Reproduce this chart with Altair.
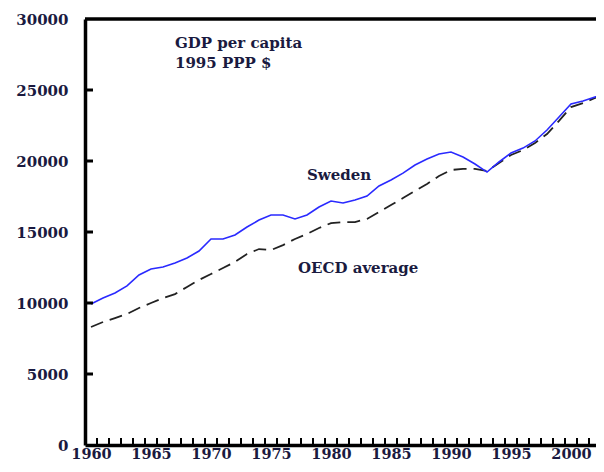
import altair as alt
import pandas as pd

years = list(range(1960, 2004))
sweden = [9930, 10350, 10700, 11200, 11970, 12390, 12530, 12820, 13170, 13660,
          14510, 14510, 14790, 15350, 15840, 16200, 16200, 15920, 16200, 16760,
          17180, 17040, 17250, 17530, 18240, 18660, 19150, 19720, 20140, 20490,
          20630, 20280, 19790, 19220, 19930, 20560, 20910, 21410, 22180, 23100,
          24010, 24220, 24510, 24790]
oecd = [8310, 8660, 8940, 9230, 9650, 10000, 10350, 10630, 11130, 11620,
        12040, 12460, 12890, 13450, 13800, 13730, 14080, 14510, 14860, 15280,
        15630, 15700, 15700, 15920, 16410, 16900, 17390, 17890, 18380, 18940,
        19370, 19440, 19440, 19300, 19860, 20420, 20770, 21270, 21900, 22820,
        23800, 24080, 24440, 24510]

y_ticks = [0, 5000, 10000, 15000, 20000, 25000, 30000]
x_labels = [1960, 1965, 1970, 1975, 1980, 1985, 1990, 1995, 2000]
x_tick_marks = [y + 0.5 for y in range(1960, 2003)]

title_text = ["GDP per capita", "1995 PPP $"]
title_year = [1967.0, 1967.0]
title_value = [27950, 26550]

lab_text = ["Sweden", "OECD average"]
lab_year = [1978.0, 1977.25]
lab_value = [18660, 12110]

W, H = 511, 426
X_DOMAIN = [1959.5, 1959.5 + W / 12]
Y_DOMAIN = [0, 30000]
TXT = "#1a1a40"
FONT = "DejaVu Serif"

df = pd.concat([
    pd.DataFrame({"year": years, "gdp": sweden, "series": "Sweden"}),
    pd.DataFrame({"year": years, "gdp": oecd, "series": "OECD average"}),
])

xs = alt.Scale(domain=X_DOMAIN, nice=False, zero=False)
ys = alt.Scale(domain=Y_DOMAIN, nice=False)

xaxis = alt.Axis(values=x_labels, format="d", title=None, grid=False, ticks=False,
                 domainWidth=3.5, domainColor="black", labelFont=FONT, labelFontWeight="bold",
                 labelFontSize=14.5, labelColor=TXT, labelPadding=2, labelFlush=False)
yaxis = alt.Axis(values=y_ticks, format="d", title=None, grid=False, ticks=False,
                 domainWidth=3.5, domainColor="black", labelFont=FONT, labelFontWeight="bold",
                 labelFontSize=15, labelColor=TXT, labelPadding=17)

base = alt.Chart(df)

oecd_line = base.transform_filter(alt.datum.series == "OECD average").mark_line(
    color="#222222", strokeWidth=1.8, strokeDash=[13, 7], clip=True
).encode(x=alt.X("year:Q", scale=xs, axis=xaxis), y=alt.Y("gdp:Q", scale=ys, axis=yaxis))

swe_line = base.transform_filter(alt.datum.series == "Sweden").mark_line(
    color="#2a2aff", strokeWidth=1.6, clip=True
).encode(x=alt.X("year:Q", scale=xs), y=alt.Y("gdp:Q", scale=ys))

ytick_df = pd.DataFrame({"yt": y_ticks[1:-1]})
yticks = alt.Chart(ytick_df).mark_rule(color="black", strokeWidth=3).encode(
    y=alt.Y("yt:Q", scale=ys), x=alt.value(0), x2=alt.value(8)
)

xtick_df = pd.DataFrame({"xt": x_tick_marks})
xticks = alt.Chart(xtick_df).mark_rule(color="black", strokeWidth=2, clip=True).encode(
    x=alt.X("xt:Q", scale=xs), y=alt.value(H - 7), y2=alt.value(H)
)

top_df = pd.DataFrame({"tv": [Y_DOMAIN[1]]})
top_border = alt.Chart(top_df).mark_rule(color="black", strokeWidth=3.5).encode(
    y=alt.Y("tv:Q", scale=ys), x=alt.value(0), x2=alt.value(W)
)

title_df = pd.DataFrame({"t": title_text, "x": title_year, "y": title_value})
titles = alt.Chart(title_df).mark_text(
    font=FONT, fontSize=15, fontWeight="bold", color=TXT, align="left", baseline="alphabetic"
).encode(x=alt.X("x:Q", scale=xs), y=alt.Y("y:Q", scale=ys), text="t:N")

lab_df = pd.DataFrame({"t": lab_text, "x": lab_year, "y": lab_value})
labels = alt.Chart(lab_df).mark_text(
    font=FONT, fontSize=15, fontWeight="bold", color=TXT, align="left", baseline="alphabetic"
).encode(x=alt.X("x:Q", scale=xs), y=alt.Y("y:Q", scale=ys), text="t:N")

chart = alt.layer(oecd_line, swe_line, yticks, xticks, top_border, titles, labels).properties(
    width=W, height=H,
    background="white",
    autosize=alt.AutoSizeParams(type="none"),
    padding={"left": 77, "top": 11, "right": 0, "bottom": 19},
).configure_view(strokeWidth=0)

chart.save("out.html", embed_options={"renderer": "svg", "actions": False})
